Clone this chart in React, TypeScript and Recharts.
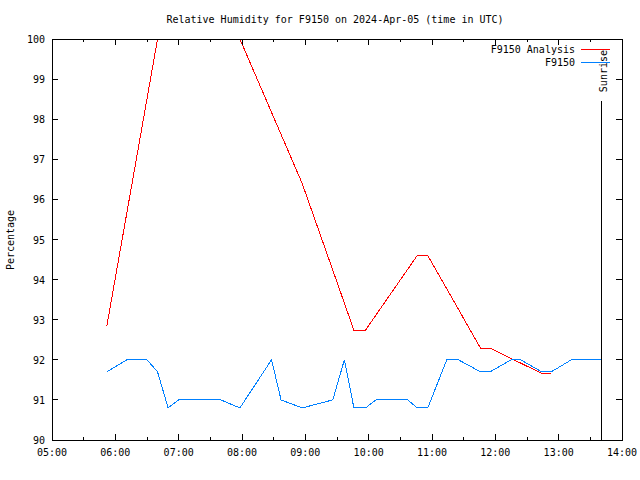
import React from "react"
import { Line, LineChart, ReferenceLine, XAxis, YAxis } from "recharts"

// time in minutes after midnight UTC
const obsTimes = [352, 371, 390, 400, 410, 420, 460, 478, 508, 517, 537, 566, 577, 586, 597, 607, 637, 646, 656, 674, 685, 706, 715, 735, 744, 764, 773, 792, 821]
const obsRH = [91.7, 92, 92, 91.7, 90.8, 91, 91, 90.8, 92, 91, 90.8, 91, 92, 90.8, 90.8, 91, 91, 90.8, 90.8, 92, 92, 91.7, 91.7, 92, 92, 91.7, 91.7, 92, 92]

const anaTimes = [352, 400, 478, 537, 586, 597, 646, 656, 706, 715, 764, 773]
const anaRH = [92.85, 100, 100, 96.4, 92.74, 92.74, 94.6, 94.6, 92.29, 92.29, 91.66, 91.66]

const xTicks = [300, 330, 360, 390, 420, 450, 480, 510, 540, 570, 600, 630, 660, 690, 720, 750, 780, 810, 840]
const yTicks = [90, 91, 92, 93, 94, 95, 96, 97, 98, 99, 100]

const sunrise = 821
const sunriseTop = 98.45

const FONT = "'DejaVu Sans Mono', monospace"

// plot box
const LEFT = 52
const TOP = 39
const RIGHT = 622
const BOTTOM = 440
const PW = RIGHT - LEFT
const PH = BOTTOM - TOP

const obsData = obsTimes.map((t, i) => ({ t, rh: obsRH[i] }))
const anaData = anaTimes.map((t, i) => ({ t, rh: anaRH[i] }))

const hhmm = (v: number) => `${String(Math.floor(v / 60)).padStart(2, "0")}:00`

// bottom tick also mirrors onto the top border (gnuplot style, ticks inward)
const BottomTick = ({ x, y, payload }: any) => {
  const major = payload.value % 60 === 0
  const len = major ? 6 : 3
  return (
    <g>
      <line x1={x} x2={x} y1={y} y2={y - len} stroke="#000" shapeRendering="crispEdges" />
      <line x1={x} x2={x} y1={y - PH} y2={y - PH + len} stroke="#000" shapeRendering="crispEdges" />
      {major && (
        <text x={x} y={y + 16} textAnchor="middle" fontFamily={FONT} fontSize={10} fill="#000">
          {hhmm(payload.value)}
        </text>
      )}
    </g>
  )
}

const LeftTick = ({ x, y, payload }: any) => (
  <g>
    <line x1={x} x2={x + 6} y1={y} y2={y} stroke="#000" shapeRendering="crispEdges" />
    <line x1={x + PW} x2={x + PW - 6} y1={y} y2={y} stroke="#000" shapeRendering="crispEdges" />
    <text x={x - 7} y={y + 4} textAnchor="end" fontFamily={FONT} fontSize={10} fill="#000">
      {payload.value}
    </text>
  </g>
)

export default function App() {
  return (
    <div style={{ position: "absolute", left: 0, top: 0, width: 640, height: 480, background: "#fff" }}>
      <style>{`.recharts-line-curve{shape-rendering:crispEdges}`}</style>
      <LineChart width={640} height={480} margin={{ top: TOP, right: 640 - RIGHT, bottom: 10, left: 0 }}>
        <XAxis
          dataKey="t"
          type="number"
          domain={[300, 840]}
          ticks={xTicks}
          allowDataOverflow
          tickSize={0}
          tickMargin={0}
          tick={<BottomTick />}
          height={30}
          axisLine={false}
          interval={0}
        />
        <YAxis
          type="number"
          domain={[90, 100]}
          ticks={yTicks}
          allowDataOverflow
          tickSize={0}
          tickMargin={0}
          tick={<LeftTick />}
          width={LEFT}
          axisLine={false}
          interval={0}
        />
        <Line data={anaData} dataKey="rh" type="linear" stroke="#ff0000" strokeWidth={1} dot={false} isAnimationActive={false} />
        <Line data={obsData} dataKey="rh" type="linear" stroke="#0080ff" strokeWidth={1} dot={false} isAnimationActive={false} />
        <ReferenceLine
          segment={[
            { x: sunrise, y: 90 },
            { x: sunrise, y: sunriseTop },
          ]}
          stroke="#000"
          ifOverflow="visible"
          shapeRendering="crispEdges"
          label={({ viewBox }: any) => (
            <text
              transform={`translate(${viewBox.x + 5},${viewBox.y - 9}) rotate(-90)`}
              textAnchor="start"
              fontFamily={FONT}
              fontSize={10}
              fill="#000"
            >
              Sunrise
            </text>
          )}
        />
      </LineChart>
      <svg width={640} height={480} style={{ position: "absolute", left: 0, top: 0, pointerEvents: "none" }}>
        <rect x={LEFT + 0.5} y={TOP + 0.5} width={PW} height={PH} fill="none" stroke="#000" shapeRendering="crispEdges" />
        <text x={335} y={23} textAnchor="middle" fontFamily={FONT} fontSize={10} fill="#000">
          Relative Humidity for F9150 on 2024-Apr-05 (time in UTC)
        </text>
        <text transform="translate(14,240) rotate(-90)" textAnchor="middle" fontFamily={FONT} fontSize={10} fill="#000">
          Percentage
        </text>
        <text x={575} y={53} textAnchor="end" fontFamily={FONT} fontSize={10} fill="#000">
          F9150 Analysis
        </text>
        <line x1={581} x2={610} y1={49.5} y2={49.5} stroke="#ff0000" shapeRendering="crispEdges" />
        <text x={575} y={66} textAnchor="end" fontFamily={FONT} fontSize={10} fill="#000">
          F9150
        </text>
        <line x1={581} x2={610} y1={62.5} y2={62.5} stroke="#0080ff" shapeRendering="crispEdges" />
      </svg>
    </div>
  )
}
